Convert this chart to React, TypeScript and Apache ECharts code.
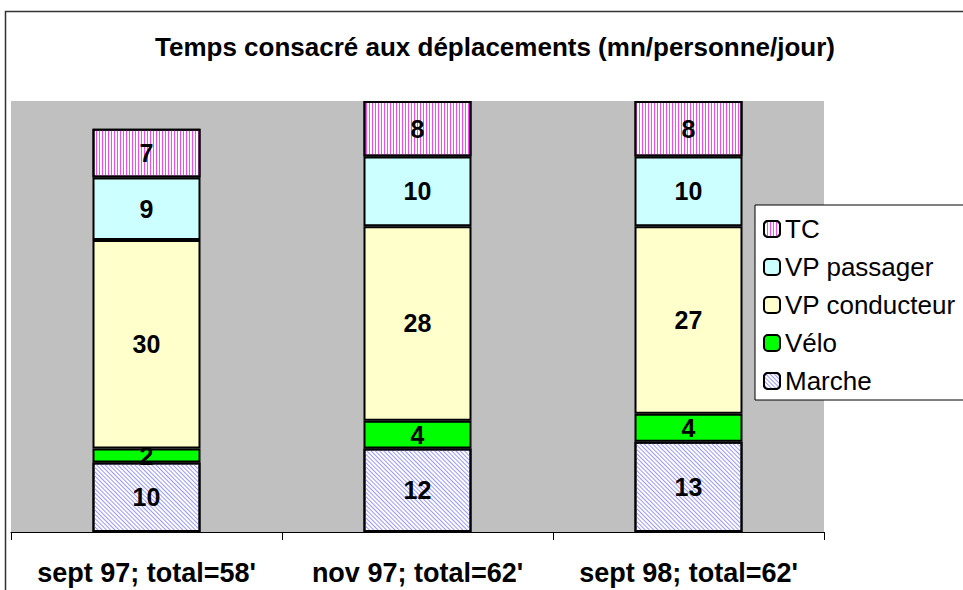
import React, { useEffect, useRef } from "react";
import * as echarts from "echarts";

const categories = ["sept 97; total=58'", "nov 97; total=62'", "sept 98; total=62'"];
const marche = [10, 12, 13];
const velo = [2, 4, 4];
const vpConducteur = [30, 28, 27];
const vpPassager = [9, 10, 10];
const tc = [7, 8, 8];
const legendOrder = ["TC", "VP passager", "VP conducteur", "Vélo", "Marche"];

export default function App() {
  const ref = useRef<HTMLDivElement>(null);
  useEffect(() => {
    if (!ref.current) return;
    const chart = echarts.init(ref.current, undefined, { renderer: "svg" });
    const font = "'Liberation Sans', Arial, sans-serif";
    const label = {
      show: true,
      position: "inside" as const,
      color: "#000",
      fontWeight: "bold" as const,
      fontSize: 25,
      fontFamily: font,
    };
    const base = {
      type: "bar" as const,
      stack: "total",
      barWidth: 108,
      label,
    };
    chart.setOption({
      animation: false,
      backgroundColor: "#fff",
      title: {
        text: "Temps consacré aux déplacements (mn/personne/jour)",
        left: 490,
        textAlign: "center",
        top: 29,
        textStyle: { fontFamily: font, fontWeight: "bold", fontSize: 26, color: "#000" },
      },
      grid: { left: 11, right: 139, top: 101, bottom: 58, show: true, backgroundColor: "#C0C0C0", borderWidth: 0 },
      legend: {
        orient: "vertical",
        left: 755,
        top: 205,
        data: legendOrder,
        backgroundColor: "#fff",
        borderColor: "#000",
        borderWidth: 1,
        padding: [11, 30, 6, 8],
        itemWidth: 16,
        itemHeight: 16,
        itemGap: 12,
        textStyle: { fontFamily: font, fontSize: 26, color: "#000" },
      },
      xAxis: {
        type: "category",
        data: categories,
        axisLine: { lineStyle: { color: "#000", width: 1 } },
        axisTick: { show: true, length: 8, lineStyle: { color: "#000" } },
        axisLabel: { interval: 0, hideOverlap: false, fontFamily: font, fontWeight: "bold", fontSize: 27, color: "#000", margin: 27 },
      },
      yAxis: { type: "value", min: 0, max: 62, show: false, splitLine: { show: false } },
      series: [
        {
          ...base,
          name: "Marche",
          data: marche,
          itemStyle: {
            color: "#fff",
            borderColor: "#000",
            borderWidth: 2,
            decal: { symbol: "rect", symbolSize: 1, color: "#9999FF", dashArrayX: [1, 2], dashArrayY: [4, 0], rotation: -Math.PI / 4 },
          },
        },
        { ...base, name: "Vélo", data: velo, itemStyle: { color: "#00FF00", borderColor: "#000", borderWidth: 2 } },
        { ...base, name: "VP conducteur", data: vpConducteur, itemStyle: { color: "#FFFFCC", borderColor: "#000", borderWidth: 2 } },
        { ...base, name: "VP passager", data: vpPassager, itemStyle: { color: "#CCFFFF", borderColor: "#000", borderWidth: 2 } },
        {
          ...base,
          name: "TC",
          data: tc,
          itemStyle: {
            color: "#fff",
            borderColor: "#000",
            borderWidth: 2,
            decal: { symbol: "rect", symbolSize: 1, color: "#FF44FF", dashArrayX: [1, 2], dashArrayY: [4, 0], rotation: 0 },
          },
        },
      ],
      graphic: [
        {
          type: "rect",
          shape: { x: 5.5, y: 11.5, width: 1000, height: 700 },
          style: { fill: "none", stroke: "#333", lineWidth: 1.5 },
          z: 100,
          silent: true,
        },
      ],
    });
    return () => chart.dispose();
  }, []);
  return <div ref={ref} style={{ position: "fixed", left: 0, top: 0, width: 963, height: 590 }} />;
}
